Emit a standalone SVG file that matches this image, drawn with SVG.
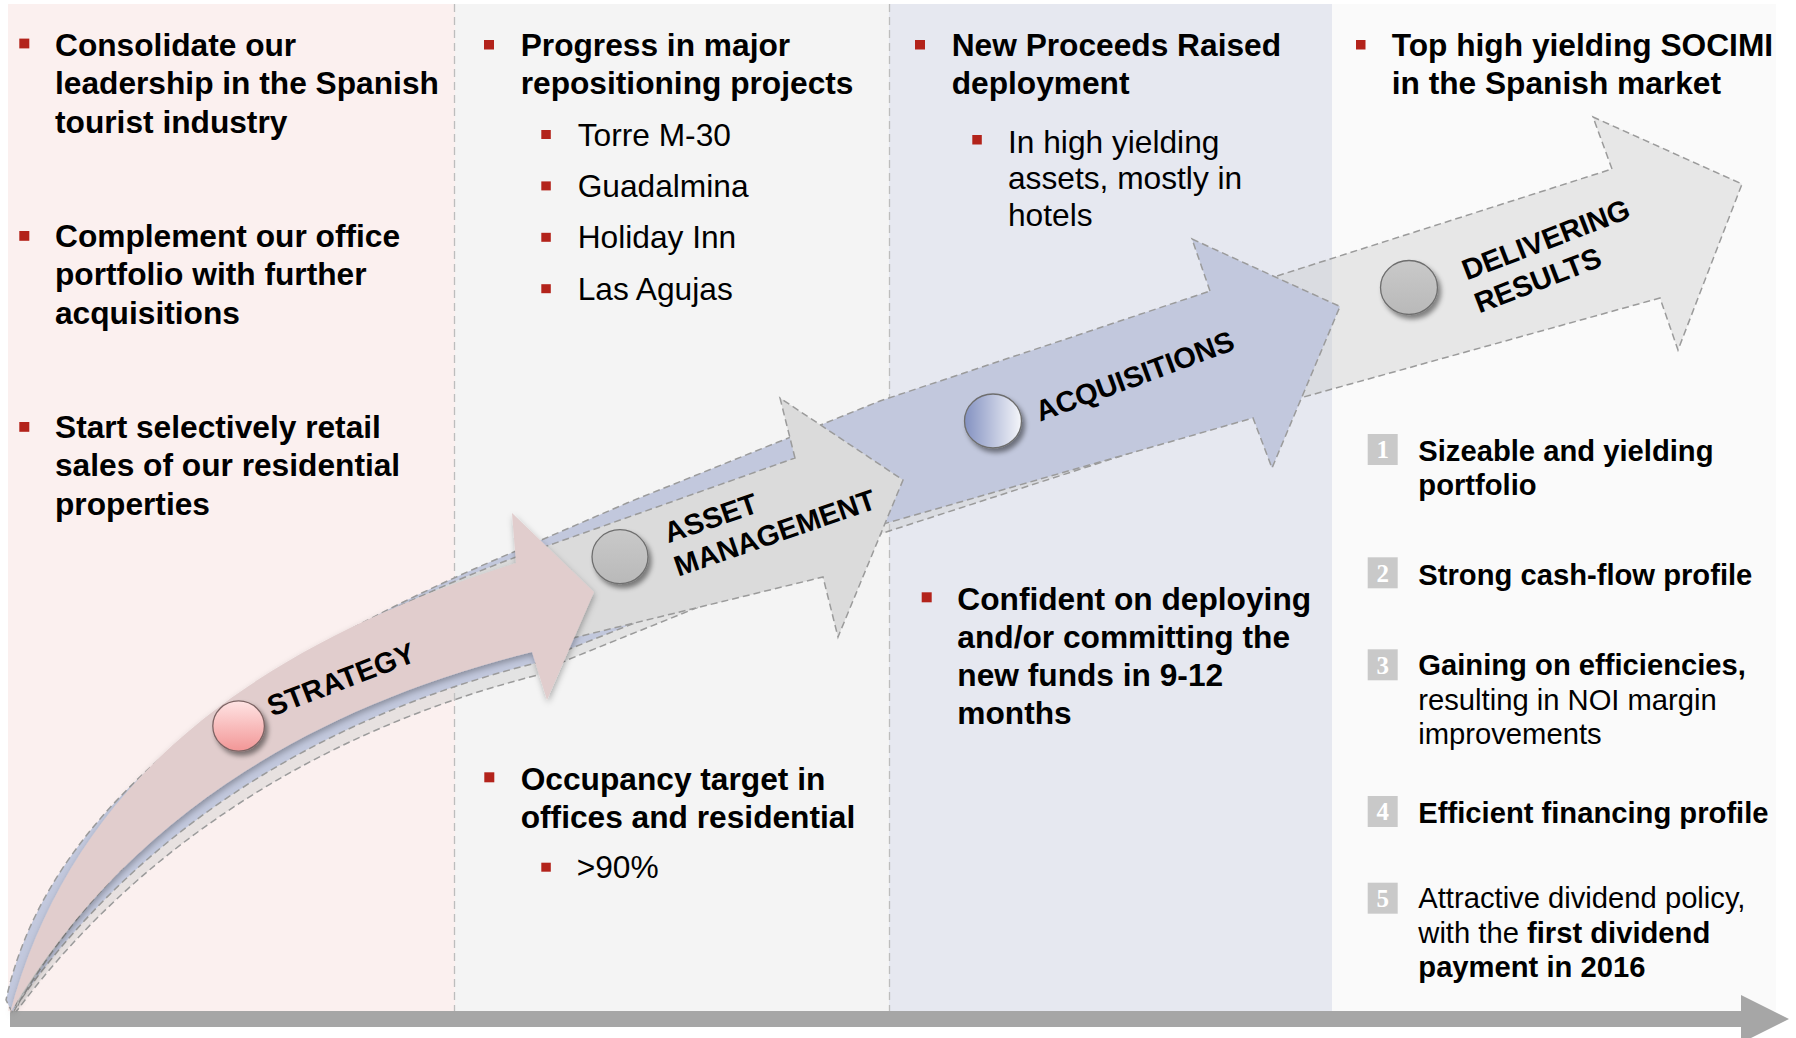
<svg xmlns="http://www.w3.org/2000/svg" width="1796" height="1038" viewBox="0 0 1796 1038">
<defs>
<style>
.t{font-family:"Liberation Sans",Arial,sans-serif;fill:#000}
.b{font-weight:bold}
.h{font-size:31.7px}
.n{font-size:29.2px}
.lbl{font-family:"Liberation Sans",Arial,sans-serif;font-weight:bold;font-size:29px;fill:#000}
.bul{fill:#B3231B}
.arr{stroke:#9B9B9B;stroke-width:1.5;stroke-dasharray:7 4;stroke-linejoin:miter}
.div{stroke:#BDBDBD;stroke-width:1.3;stroke-dasharray:8 5;fill:none}
.nb{fill:#C9C9C9}
.nt{font-family:"Liberation Serif","Times New Roman",serif;font-weight:bold;font-size:25px;fill:#fff;text-anchor:middle}
.ball{stroke:#6E6E6E;stroke-width:1.3}
</style>
<filter id="sh" x="-50%" y="-50%" width="200%" height="200%">
<feDropShadow dx="3" dy="4" stdDeviation="2.5" flood-color="#000" flood-opacity="0.45"/>
</filter>
<filter id="psh" x="-10%" y="-10%" width="120%" height="120%">
<feDropShadow dx="1" dy="3" stdDeviation="3" flood-color="#000" flood-opacity="0.3"/>
</filter>
<linearGradient id="gPink" x1="0" y1="0" x2="0" y2="1">
<stop offset="0" stop-color="#FFE4E4"/><stop offset="1" stop-color="#F29696"/>
</linearGradient>
<linearGradient id="gAcq" x1="0" y1="0" x2="1" y2="0">
<stop offset="0" stop-color="#8391C1"/><stop offset="1" stop-color="#F5F6FA"/>
</linearGradient>
<linearGradient id="gGray" x1="0" y1="0" x2="0" y2="1">
<stop offset="0" stop-color="#C9C9C9"/><stop offset="1" stop-color="#B9B9B9"/>
</linearGradient>
</defs>

<g id="columns">
<rect x="8" y="4" width="447" height="1007" fill="#FBF0EF"/>
<rect x="455" y="4" width="434" height="1007" fill="#F4F4F4"/>
<rect x="889" y="4" width="443" height="1007" fill="#E6E8F0"/>
<rect x="1332" y="4" width="444" height="1007" fill="#FAFAFA"/>
<line class="div" x1="454.5" y1="4" x2="454.5" y2="1011"/>
<line class="div" x1="889.5" y1="4" x2="889.5" y2="1011"/>
</g>

<g id="axis">
<rect x="10" y="1011" width="1731" height="16" fill="#A6A6A6"/>
<polygon points="1741,995 1789,1019 1741,1043" fill="#A6A6A6"/>
</g>

<g id="connectors">
<path id="arrow-delivering" class="arr" fill="#C8C8C8" fill-opacity="0.38" d="M1612,169 L1593,117 L1742,184 L1678,350 L1660,298 L1300,398 L880,534 L567,660 L538,675 C305,734 130,858 16,1012 C78,800 252,662 516,556 L627,508 L880,407 L1210,296 L1277,276 Z"/>
<path id="arrow-acquisitions" class="arr" fill="#C2C8DD" d="M1210,291 L1192,239 L1340,306.5 L1272,468 L1253,418 L880,525 L567,650 L536,663 C300,722 125,846 12,1012 L6,1000 C48,805 250,662 516,551 L627,503 L880,401 Z"/>
<path id="arrow-asset" class="arr" fill="#DBDBDB" d="M795,458 L780,398 L903,480 L838,637 L823,577 L577,637 L534,648 C293,706 121,827 14,1011 C76,795 248,658 516,557 Z"/>
<path id="arrow-strategy" fill="#E1CDCD" filter="url(#psh)" d="M10,1013 C70,790 240,650 516,563 L512,513 L594,592 L547,700 L532,652 C291,712 117,833 10,1013 Z"/>
</g>

<g id="node-delivering">
<ellipse class="ball" cx="1409" cy="287.5" rx="28.5" ry="27" fill="url(#gGray)" filter="url(#sh)"/>
<text class="lbl" transform="translate(1466.7,280.6) rotate(-21)">DELIVERING</text>
<text class="lbl" transform="translate(1479.3,313.4) rotate(-21)">RESULTS</text>
</g>
<g id="node-acquisitions">
<ellipse class="ball" cx="993" cy="421" rx="28.5" ry="27" fill="url(#gAcq)" filter="url(#sh)"/>
<text class="lbl" transform="translate(1040,421.8) rotate(-20.3)">ACQUISITIONS</text>
</g>
<g id="node-asset">
<ellipse class="ball" cx="620" cy="556.7" rx="28" ry="27" fill="url(#gGray)" filter="url(#sh)"/>
<text class="lbl" transform="translate(668.3,543.3) rotate(-19)">ASSET</text>
<text class="lbl" transform="translate(678.3,576.7) rotate(-19)">MANAGEMENT</text>
</g>
<g id="node-strategy">
<ellipse cx="238.6" cy="726" rx="25.8" ry="25.2" fill="url(#gPink)" stroke="#7D6464" stroke-width="1.3" filter="url(#sh)"/>
<text class="lbl" transform="translate(272,716.7) rotate(-21)">STRATEGY</text>
</g>

<g id="col1-text">
<rect class="bul" x="19.3" y="38.6" width="10" height="9.8"/>
<text class="t b h" x="55" y="55.8">Consolidate our</text>
<text class="t b h" x="55" y="94.2">leadership in the Spanish</text>
<text class="t b h" x="55" y="132.6">tourist industry</text>
<rect class="bul" x="19.3" y="231" width="10" height="9.8"/>
<text class="t b h" x="55" y="247">Complement our office</text>
<text class="t b h" x="55" y="285.4">portfolio with further</text>
<text class="t b h" x="55" y="323.8">acquisitions</text>
<rect class="bul" x="19.3" y="422" width="10" height="9.8"/>
<text class="t b h" x="55" y="438">Start selectively retail</text>
<text class="t b h" x="55" y="476.4">sales of our residential</text>
<text class="t b h" x="55" y="514.8">properties</text>
</g>

<g id="col2-text">
<rect class="bul" x="484" y="40" width="10" height="9.5"/>
<text class="t b h" x="520.7" y="55.8">Progress in major</text>
<text class="t b h" x="520.7" y="94.2">repositioning projects</text>
<rect class="bul" x="541.3" y="130" width="9.5" height="9"/>
<text class="t h" x="577.7" y="145.5">Torre M-30</text>
<rect class="bul" x="541.3" y="181.4" width="9.5" height="9"/>
<text class="t h" x="577.7" y="196.9">Guadalmina</text>
<rect class="bul" x="541.3" y="232.8" width="9.5" height="9"/>
<text class="t h" x="577.7" y="248.3">Holiday Inn</text>
<rect class="bul" x="541.3" y="284.2" width="9.5" height="9"/>
<text class="t h" x="577.7" y="299.7">Las Agujas</text>
<rect class="bul" x="484.3" y="772.3" width="10" height="10"/>
<text class="t b h" x="520.7" y="789.5">Occupancy target in</text>
<text class="t b h" x="520.7" y="827.5">offices and residential</text>
<rect class="bul" x="541.3" y="862.7" width="9.5" height="9"/>
<text class="t h" x="576.7" y="878.3">&gt;90%</text>
</g>

<g id="col3-text">
<rect class="bul" x="915" y="40" width="10" height="9.5"/>
<text class="t b h" x="951.7" y="55.8">New Proceeds Raised</text>
<text class="t b h" x="951.7" y="94.2">deployment</text>
<rect class="bul" x="972.3" y="135" width="9.5" height="9.5"/>
<text class="t h" x="1008" y="152.8">In high yielding</text>
<text class="t h" x="1008" y="189.3">assets, mostly in</text>
<text class="t h" x="1008" y="225.8">hotels</text>
<rect class="bul" x="921.7" y="592.3" width="10" height="10"/>
<text class="t b h" x="957.3" y="609.5">Confident on deploying</text>
<text class="t b h" x="957.3" y="647.7">and/or committing the</text>
<text class="t b h" x="957.3" y="685.9">new funds in 9-12</text>
<text class="t b h" x="957.3" y="724.1">months</text>
</g>

<g id="col4-text">
<rect class="bul" x="1356" y="40" width="9.5" height="9.5"/>
<text class="t b h" x="1391.7" y="55.8">Top high yielding SOCIMI</text>
<text class="t b h" x="1391.7" y="94.2">in the Spanish market</text>

<rect class="nb" x="1367.7" y="434" width="30" height="31"/>
<text class="nt" x="1382.7" y="458">1</text>
<text class="t b n" x="1418.3" y="461.3">Sizeable and yielding</text>
<text class="t b n" x="1418.3" y="495.3">portfolio</text>

<rect class="nb" x="1367.7" y="557.3" width="30" height="31"/>
<text class="nt" x="1382.7" y="581.5">2</text>
<text class="t b n" x="1418.3" y="585.3">Strong cash-flow profile</text>

<rect class="nb" x="1367.7" y="649.3" width="30" height="31"/>
<text class="nt" x="1382.7" y="673.5">3</text>
<text class="t b n" x="1418.3" y="675.3">Gaining on efficiencies,</text>
<text class="t n" x="1418.3" y="709.8">resulting in NOI margin</text>
<text class="t n" x="1418.3" y="744.3">improvements</text>

<rect class="nb" x="1367.7" y="796" width="30" height="31"/>
<text class="nt" x="1382.7" y="820.2">4</text>
<text class="t b n" x="1418.3" y="822.7">Efficient financing profile</text>

<rect class="nb" x="1367.7" y="882.7" width="30" height="31"/>
<text class="nt" x="1382.7" y="906.9">5</text>
<text class="t n" x="1418.3" y="908.3">Attractive dividend policy,</text>
<text class="t n" x="1418.3" y="942.8">with the <tspan class="b">first dividend</tspan></text>
<text class="t b n" x="1418.3" y="976.5">payment in 2016</text>
</g>
</svg>
